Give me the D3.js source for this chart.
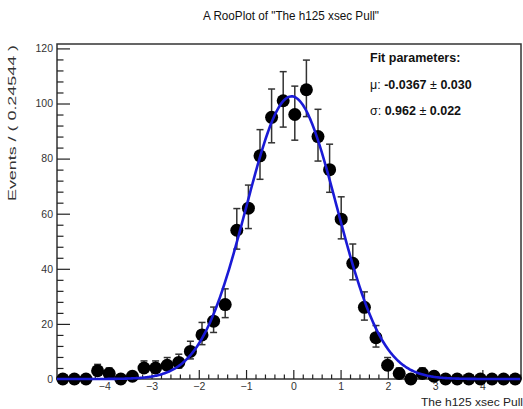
<!DOCTYPE html>
<html>
<head>
<meta charset="utf-8">
<script src="https://cdn.jsdelivr.net/npm/d3@7/dist/d3.min.js"></script>
<style>
  html, body { margin: 0; padding: 0; background: #fff; }
  svg { display: block; font-family: "Liberation Sans", Arial, Helvetica, sans-serif; }
</style>
</head>
<body>
<svg id="plot" width="523" height="409"></svg>
<script>
// Binning of the pull variable
const xMin = -5.0;
const binWidth = 0.24544;
const nBins = 40;

// Events per bin
const counts = [
  0, 0, 0, 3, 2, 0, 1, 4, 4, 5,
  6, 10, 16, 21, 27, 54, 62, 81, 95, 101,
  96, 105, 88, 76, 58, 42, 26, 15, 5, 2,
  0, 2, 1, 0, 0, 0, 0, 0, 0, 0
];

// Gaussian fit result
const fitMu = -0.0367, fitMuErr = 0.030;
const fitSigma = 0.962, fitSigmaErr = 0.022;

// Axis ticks
const xMajorTicks = [-4, -3, -2, -1, 0, 1, 2, 3, 4];
const yMajorTicks = [0, 20, 40, 60, 80, 100, 120];

const titleText = 'A RooPlot of "The h125 xsec Pull"';
const xTitle = "The h125 xsec Pull";
const yTitle = "Events / ( 0.24544 )";

const xMax = xMin + binWidth * nBins;
const yMax = 121.6;

const frame = { left: 57, right: 521, top: 44, bottom: 379 };
const svg = d3.select("#plot");

const x = d3.scaleLinear().domain([xMin, xMax]).range([frame.left, frame.right]);
const y = d3.scaleLinear().domain([0, yMax]).range([frame.bottom, frame.top]);

const bins = counts.map((n, i) => {
  const s = Math.sqrt(n + 0.25);
  return {
    x: xMin + binWidth * (i + 0.5),
    n: n,
    lo: n > 0 ? n - s + 0.5 : 0,
    hi: n + s + 0.5
  };
});

// Title
svg.append("text")
  .attr("x", 291).attr("y", 20)
  .attr("text-anchor", "middle")
  .attr("font-size", 13)
  .attr("textLength", 176)
  .attr("lengthAdjust", "spacingAndGlyphs")
  .attr("fill", "#111")
  .text(titleText);

// Frame
svg.append("rect")
  .attr("x", frame.left).attr("y", frame.top)
  .attr("width", frame.right - frame.left)
  .attr("height", frame.bottom - frame.top)
  .attr("fill", "none")
  .attr("stroke", "#333")
  .attr("stroke-width", 1.5);

// X axis with inward ticks
const xMinor = d3.range(-4.8, xMax, 0.2).filter(v => Math.abs(v - Math.round(v)) > 1e-6);
const xAxisG = svg.append("g").attr("transform", `translate(0,${frame.bottom})`);
xAxisG.call(d3.axisBottom(x).tickValues(xMinor).tickSize(-4.5).tickFormat(""))
  .call(g => g.select(".domain").remove());
xAxisG.append("g")
  .call(d3.axisBottom(x).tickValues(xMajorTicks).tickSize(-9).tickPadding(4).tickFormat(d3.format("d")))
  .call(g => g.select(".domain").remove());
xAxisG.selectAll("line").attr("stroke", "#222").attr("stroke-width", 1.2);
xAxisG.selectAll("text")
  .attr("font-size", 10.5)
  .attr("fill", "#333")
  .attr("font-family", "Liberation Sans, Arial, sans-serif");

// Y axis with inward ticks
const yMinor = d3.range(4, yMax, 4).filter(v => v % 20 !== 0);
const yAxisG = svg.append("g").attr("transform", `translate(${frame.left},0)`);
yAxisG.call(d3.axisLeft(y).tickValues(yMinor).tickSize(-6.5).tickFormat(""))
  .call(g => g.select(".domain").remove());
yAxisG.append("g")
  .call(d3.axisLeft(y).tickValues(yMajorTicks).tickSize(-13).tickPadding(4).tickFormat(d3.format("d")))
  .call(g => g.select(".domain").remove())
  .call(g => g.selectAll("text").attr("x", -4));
yAxisG.selectAll("line").attr("stroke", "#222").attr("stroke-width", 1.2);
yAxisG.selectAll("text")
  .attr("font-size", 10.5)
  .attr("fill", "#333")
  .attr("font-family", "Liberation Sans, Arial, sans-serif");

// Axis titles
svg.append("text")
  .attr("x", 523).attr("y", 406)
  .attr("text-anchor", "end")
  .attr("font-size", 11.5)
  .attr("textLength", 102)
  .attr("lengthAdjust", "spacingAndGlyphs")
  .attr("fill", "#222")
  .text(xTitle);

svg.append("text")
  .attr("transform", `translate(16,${frame.top + 1}) rotate(-90)`)
  .attr("text-anchor", "end")
  .attr("font-size", 11)
  .attr("textLength", 156)
  .attr("lengthAdjust", "spacingAndGlyphs")
  .attr("fill", "#333")
  .text(yTitle);

// Data: error bars and markers
const dataG = svg.append("g");
const capW = 3.5;
const bars = dataG.selectAll("g.bar").data(bins).join("g").attr("class", "bar");
bars.append("line")
  .attr("x1", d => x(d.x)).attr("x2", d => x(d.x))
  .attr("y1", d => y(d.lo)).attr("y2", d => y(d.hi))
  .attr("stroke", "#333").attr("stroke-width", 1.5);
bars.append("line")
  .attr("x1", d => x(d.x) - capW).attr("x2", d => x(d.x) + capW)
  .attr("y1", d => y(d.hi)).attr("y2", d => y(d.hi))
  .attr("stroke", "#333").attr("stroke-width", 1.5);
bars.filter(d => d.n > 0).append("line")
  .attr("x1", d => x(d.x) - capW).attr("x2", d => x(d.x) + capW)
  .attr("y1", d => y(d.lo)).attr("y2", d => y(d.lo))
  .attr("stroke", "#333").attr("stroke-width", 1.5);
dataG.selectAll("circle").data(bins).join("circle")
  .attr("cx", d => x(d.x)).attr("cy", d => y(d.n))
  .attr("r", 6.5)
  .attr("fill", "#000");

// Fitted Gaussian, normalised to the data yield
const total = d3.sum(counts);
const norm = total * binWidth / (fitSigma * Math.sqrt(2 * Math.PI));
const gauss = v => norm * Math.exp(-0.5 * Math.pow((v - fitMu) / fitSigma, 2));
const curveX = d3.range(xMin, xMax + 1e-9, 0.02);
svg.append("path")
  .datum(curveX)
  .attr("fill", "none")
  .attr("stroke", "#1a1ad6")
  .attr("stroke-width", 2.6)
  .attr("d", d3.line().x(v => x(v)).y(v => y(gauss(v))));

// Fit parameter box
const box = svg.append("g").attr("fill", "#111").attr("font-size", 12.5);
box.append("text").attr("x", 370).attr("y", 62)
  .attr("font-weight", "bold").text("Fit parameters:");
const muLine = box.append("text").attr("x", 370).attr("y", 89);
muLine.append("tspan").text("\u03bc: ");
muLine.append("tspan").attr("font-weight", "bold").text(fitMu.toFixed(4));
muLine.append("tspan").text(" \u00b1 ");
muLine.append("tspan").attr("font-weight", "bold").text(fitMuErr.toFixed(3));
const sgLine = box.append("text").attr("x", 370).attr("y", 115);
sgLine.append("tspan").text("\u03c3:  ");
sgLine.append("tspan").attr("font-weight", "bold").text(fitSigma.toFixed(3));
sgLine.append("tspan").text(" \u00b1 ");
sgLine.append("tspan").attr("font-weight", "bold").text(fitSigmaErr.toFixed(3));
</script>
</body>
</html>
